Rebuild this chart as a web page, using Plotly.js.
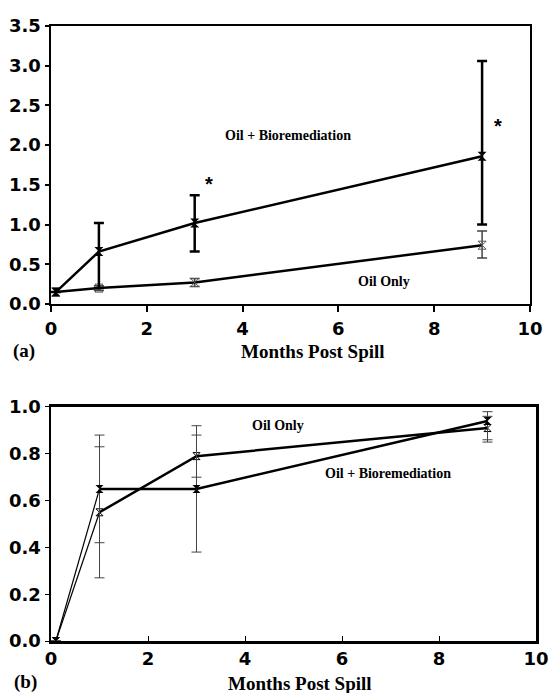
<!DOCTYPE html>
<html>
<head>
<meta charset="utf-8">
<script src="https://cdn.plot.ly/plotly-3.0.1.min.js"></script>
<style>html,body{margin:0;padding:0;background:#fff;}#chart{width:553px;height:693px;}</style>
</head>
<body>
<div id="chart"></div>
<script>
// ---- Data ----
const months = [0.1, 1, 3, 9];
// Panel (a)
const aBioY = [0.15, 0.66, 1.02, 1.86];
const aBioErrPlus = [0.0, 0.36, 0.35, 1.2];
const aBioErrMinus = [0.0, 0.46, 0.36, 0.86];
const aOilY = [0.15, 0.2, 0.27, 0.74];
const aOilErrPlus = [0.0, 0.03, 0.05, 0.18];
const aOilErrMinus = [0.0, 0.03, 0.05, 0.16];
// Panel (b)
const bBioY = [0.0, 0.65, 0.65, 0.94];
const bBioErrPlus = [0.0, 0.18, 0.23, 0.04];
const bBioErrMinus = [0.0, 0.23, 0.27, 0.09];
const bOilY = [0.0, 0.55, 0.79, 0.91];
const bOilErrPlus = [0.0, 0.33, 0.13, 0.05];
const bOilErrMinus = [0.0, 0.28, 0.09, 0.05];
const xTicks = [0, 2, 4, 6, 8, 10];
const aYTicks = [0.0, 0.5, 1.0, 1.5, 2.0, 2.5, 3.0, 3.5];
const bYTicks = [0.0, 0.2, 0.4, 0.6, 0.8, 1.0];

const B = s => '<b>' + s + '</b>';
const tickFont = {family: 'DejaVu Sans, Arial, sans-serif', size: 18, color: '#000'};
const serif = {family: 'Liberation Serif, Times New Roman, serif', color: '#000'};

const traces = [
  // Panel a
  {x: months, y: aOilY, xaxis: 'x', yaxis: 'y', mode: 'lines+markers',
   line: {color: '#000', width: 2.5},
   marker: {symbol: 'hourglass-open', size: 8, color: '#555', line: {width: 1, color: '#555'}},
   error_y: {type: 'data', symmetric: false, array: aOilErrPlus, arrayminus: aOilErrMinus, color: '#444', thickness: 1.5, width: 5},
   showlegend: false},
  {x: months, y: aBioY, xaxis: 'x', yaxis: 'y', mode: 'lines+markers',
   line: {color: '#000', width: 2.5},
   marker: {symbol: 'hourglass', size: 9, color: '#000'},
   error_y: {type: 'data', symmetric: false, array: aBioErrPlus, arrayminus: aBioErrMinus, color: '#000', thickness: 2.5, width: 5},
   showlegend: false},
  // Panel b : first segment thin, rest thick
  {x: months.slice(0, 2), y: bOilY.slice(0, 2), xaxis: 'x2', yaxis: 'y2', mode: 'lines',
   line: {color: '#000', width: 1.2}, showlegend: false, hoverinfo: 'skip'},
  {x: months.slice(0, 2), y: bBioY.slice(0, 2), xaxis: 'x2', yaxis: 'y2', mode: 'lines',
   line: {color: '#000', width: 1.2}, showlegend: false, hoverinfo: 'skip'},
  {x: months.slice(1), y: bOilY.slice(1), xaxis: 'x2', yaxis: 'y2', mode: 'lines',
   line: {color: '#000', width: 2.5}, showlegend: false, hoverinfo: 'skip'},
  {x: months.slice(1), y: bBioY.slice(1), xaxis: 'x2', yaxis: 'y2', mode: 'lines',
   line: {color: '#000', width: 2.5}, showlegend: false, hoverinfo: 'skip'},
  {x: months, y: bOilY, xaxis: 'x2', yaxis: 'y2', mode: 'markers',
   marker: {symbol: 'hourglass-open', size: 7, color: '#000', line: {width: 1, color: '#000'}},
   error_y: {type: 'data', symmetric: false, array: bOilErrPlus, arrayminus: bOilErrMinus, color: '#444', thickness: 1, width: 5},
   showlegend: false},
  {x: months, y: bBioY, xaxis: 'x2', yaxis: 'y2', mode: 'markers',
   marker: {symbol: 'hourglass', size: 8, color: '#000'},
   error_y: {type: 'data', symmetric: false, array: bBioErrPlus, arrayminus: bBioErrMinus, color: '#444', thickness: 1, width: 5},
   showlegend: false}
];

const axisCommon = {showgrid: false, zeroline: false, showline: true, linecolor: '#000', linewidth: 2.5, mirror: true,
  tickfont: tickFont, tickcolor: '#000', tickwidth: 2};

const layout = {
  width: 553, height: 693,
  margin: {l: 51, r: 17, t: 26, b: 52},
  paper_bgcolor: '#fff', plot_bgcolor: '#fff',
  xaxis: Object.assign({}, axisCommon, {domain: [0, 0.9876], anchor: 'y', range: [0, 10], tickvals: xTicks, ticktext: xTicks.map(v => B(String(v))),
    ticks: 'outside', ticklen: 6, ticklabelstandoff: 1}),
  yaxis: Object.assign({}, axisCommon, {domain: [0.548, 1], anchor: 'x', range: [0, 3.5], tickvals: aYTicks, ticktext: aYTicks.map(v => B(v.toFixed(1))),
    ticks: 'outside', ticklen: 4, ticklabelstandoff: 0}),
  xaxis3: Object.assign({}, axisCommon, {domain: [0, 0.9876], anchor: 'y', overlaying: 'x', range: [0, 10], tickvals: xTicks,
    ticks: 'inside', ticklen: 6, showticklabels: false, mirror: false, showline: false}),
  xaxis2: Object.assign({}, axisCommon, {domain: [0, 1], anchor: 'y2', range: [0, 10], tickvals: xTicks, ticktext: xTicks.map(v => B(String(v))),
    ticks: 'inside', ticklen: 5, tickwidth: 1, ticklabelstandoff: 0}),
  yaxis2: Object.assign({}, axisCommon, {domain: [0, 0.3805], anchor: 'x2', range: [0, 1.0], tickvals: bYTicks, ticktext: bYTicks.map(v => B(v.toFixed(1))),
    ticks: 'outside', ticklen: 4, tickwidth: 1, ticklabelstandoff: 0}),
  annotations: [
    {xref: 'x', yref: 'y', x: 4.95, y: 2.12, text: B('Oil + Bioremediation'), showarrow: false, font: Object.assign({}, serif, {size: 14})},
    {xref: 'x', yref: 'y', x: 6.95, y: 0.28, text: B('Oil Only'), showarrow: false, font: Object.assign({}, serif, {size: 14})},
    {xref: 'x', yref: 'y', x: 3.3, y: 1.51, text: B('*'), showarrow: false, font: {family: 'Liberation Sans, Arial', size: 20, color: '#000'}},
    {xref: 'x', yref: 'y', x: 9.33, y: 2.24, text: B('*'), showarrow: false, font: {family: 'Liberation Sans, Arial', size: 20, color: '#000'}},
    {xref: 'x2', yref: 'y2', x: 4.68, y: 0.92, text: B('Oil Only'), showarrow: false, font: Object.assign({}, serif, {size: 14})},
    {xref: 'x2', yref: 'y2', x: 6.95, y: 0.715, text: B('Oil + Bioremediation'), showarrow: false, font: Object.assign({}, serif, {size: 14})},
    {xref: 'paper', yref: 'paper', x: (313 - 51) / 485, y: (641 - 352) / 615, xanchor: 'center', yanchor: 'middle', text: B('Months Post Spill'), showarrow: false, font: Object.assign({}, serif, {size: 19})},
    {xref: 'paper', yref: 'paper', x: (300 - 51) / 485, y: (641 - 683) / 615, xanchor: 'center', yanchor: 'middle', text: B('Months Post Spill'), showarrow: false, font: Object.assign({}, serif, {size: 19})},
    {xref: 'paper', yref: 'paper', x: (24 - 51) / 485, y: (641 - 351) / 615, xanchor: 'center', yanchor: 'middle', text: B('(a)'), showarrow: false, font: Object.assign({}, serif, {size: 19})},
    {xref: 'paper', yref: 'paper', x: (25 - 51) / 485, y: (641 - 682) / 615, xanchor: 'center', yanchor: 'middle', text: B('(b)'), showarrow: false, font: Object.assign({}, serif, {size: 19})}
  ]
};

Plotly.newPlot('chart', traces, layout, {displayModeBar: false, staticPlot: true});
</script>
</body>
</html>
